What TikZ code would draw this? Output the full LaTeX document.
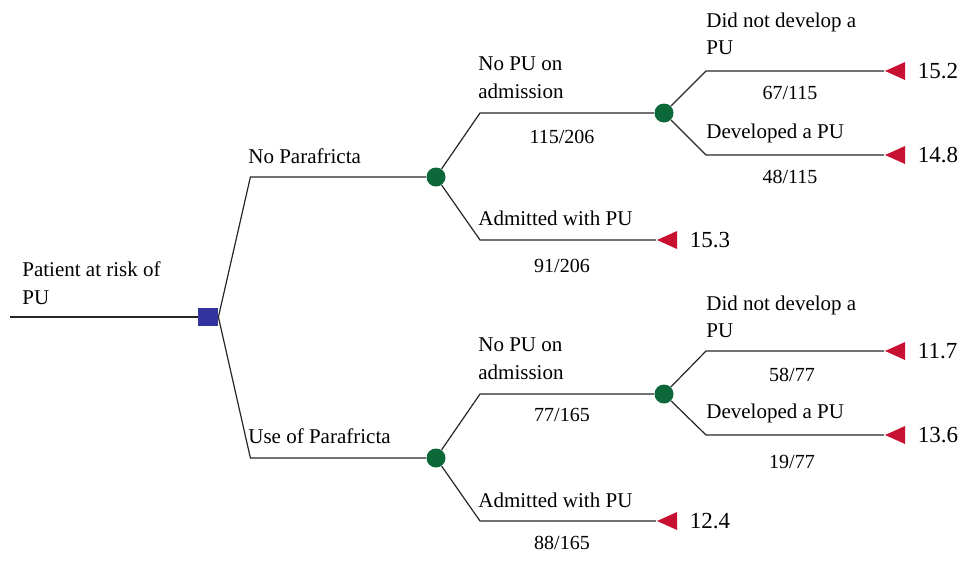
\documentclass[tikz,border=0pt]{standalone}
\usepackage{fontspec}
\setmainfont{Liberation Serif}
\usetikzlibrary{positioning,shapes.geometric}
\definecolor{decblue}{RGB}{51,51,160}
\definecolor{chgreen}{RGB}{12,104,56}
\definecolor{endred}{RGB}{200,16,50}
\tikzstyle{branch} = [draw, line width=0.6pt, black!85]

\begin{document}
\begin{tikzpicture}[
	x=0.5pt, y=-0.5pt,
	node distance=6pt,
	decision/.style={
		rectangle,
		fill=decblue,
		minimum width=10pt,
		minimum height=9pt,
		inner sep=0pt,
	},
	chance/.style={
		circle,
		fill=chgreen,
		minimum size=9.5pt,
		inner sep=0pt,
	},
	terminal/.style={
		isosceles triangle,
		shape border rotate=180,
		isosceles triangle stretches,
		fill=endred,
		minimum width=9pt,
		minimum height=10pt,
		inner sep=0pt,
		anchor=apex,
	},
	lbl/.style={
		font=\fontsize{10.5}{13.8}\selectfont,
		align=left,
		inner sep=0pt,
		anchor=west,
	},
	prob/.style={
		font=\fontsize{10}{12}\selectfont,
		inner sep=0pt,
	},
	value/.style={
		font=\fontsize{11.5}{13}\selectfont,
		inner sep=0pt,
	}
]
	\useasboundingbox (0,0) rectangle (970,563);

	% decision and chance nodes
	\coordinate (start) at (10,317);
	\node (dec) [decision] at (208,317) {};
	\node (noparaf) [chance] at (436,177) {};
	\node (useparaf) [chance] at (436,458) {};
	\node (nopu1) [chance] at (664,113) {};
	\node (nopu2) [chance] at (664,394) {};

	% outcomes
	\node (adm1) [terminal] at (656,240) {};
	\node (adm2) [terminal] at (656,521) {};
	\node (nodev1) [terminal] at (884,71) {};
	\node (dev1) [terminal] at (884,155) {};
	\node (nodev2) [terminal] at (884,351) {};
	\node (dev2) [terminal] at (884,435) {};
	\node (vadm1) [value,right=of adm1] {15.3};
	\node (vadm2) [value,right=of adm2] {12.4};
	\node (vnodev1) [value,right=of nodev1] {15.2};
	\node (vdev1) [value,right=of dev1] {14.8};
	\node (vnodev2) [value,right=of nodev2] {11.7};
	\node (vdev2) [value,right=of dev2] {13.6};

	% branch labels
	\node (lroot) [lbl] at (22,283) {Patient at risk of\\PU};
	\node (lnoparaf) [lbl] at (248,156) {No Parafricta};
	\node (luseparaf) [lbl] at (248,436) {Use of Parafricta};
	\node (lnopu1) [lbl] at (478,78) {No PU on\\admission};
	\node (lnopu2) [lbl] at (478,359) {No PU on\\admission};
	\node (ladm1) [lbl] at (478,218) {Admitted with PU};
	\node (ladm2) [lbl] at (478,500) {Admitted with PU};
	\node (lnodev1) [lbl] at (706,34) {Did not develop a\\PU};
	\node (lnodev2) [lbl] at (706,317) {Did not develop a\\PU};
	\node (ldev1) [lbl] at (706,133) {Developed a PU};
	\node (ldev2) [lbl] at (706,413) {Developed a PU};
	\node (pnopu1) [prob] at (562,137) {115/206};
	\node (padm1) [prob] at (562,266) {91/206};
	\node (pnopu2) [prob] at (562,415) {77/165};
	\node (padm2) [prob] at (562,543) {88/165};
	\node (pnodev1) [prob] at (790,93) {67/115};
	\node (pdev1) [prob] at (790,177) {48/115};
	\node (pnodev2) [prob] at (792,375) {58/77};
	\node (pdev2) [prob] at (792,462) {19/77};

	\draw [branch] (start) -- (dec);
	\draw [branch] (dec.east) -- ([xshift=16pt]dec.east |- noparaf) -- (noparaf);
	\draw [branch] (dec.east) -- ([xshift=16pt]dec.east |- useparaf) -- (useparaf);
	\draw [branch] (noparaf) -- ([xshift=22pt]noparaf.center |- nopu1) -- (nopu1);
	\draw [branch] (noparaf) -- ([xshift=22pt]noparaf.center |- adm1) -- (adm1.apex);
	\draw [branch] (useparaf) -- ([xshift=22pt]useparaf.center |- nopu2) -- (nopu2);
	\draw [branch] (useparaf) -- ([xshift=22pt]useparaf.center |- adm2) -- (adm2.apex);
	\draw [branch] (nopu1) -- ([xshift=21pt]nopu1.center |- nodev1) -- (nodev1.apex);
	\draw [branch] (nopu1) -- ([xshift=21pt]nopu1.center |- dev1) -- (dev1.apex);
	\draw [branch] (nopu2) -- ([xshift=21pt]nopu2.center |- nodev2) -- (nodev2.apex);
	\draw [branch] (nopu2) -- ([xshift=21pt]nopu2.center |- dev2) -- (dev2.apex);

\end{tikzpicture}
\end{document}
